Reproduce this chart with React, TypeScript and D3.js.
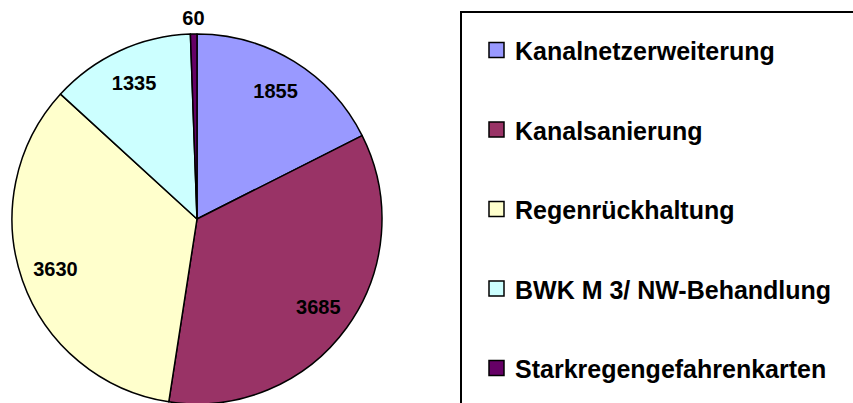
import React from 'react'
import * as d3 from 'd3'

const categories = [
  'Kanalnetzerweiterung',
  'Kanalsanierung',
  'Regenrückhaltung',
  'BWK M 3/ NW-Behandlung',
  'Starkregengefahrenkarten'
]
const values = [1855, 3685, 3630, 1335, 60]
const colors = ['#9999FF', '#993366', '#FFFFCC', '#CCFFFF', '#660066']

interface ISlice {
  name: string
  value: number
  color: string
}

const data: ISlice[] = categories.map((name, i) => ({ name, value: values[i], color: colors[i] }))

const width = 853
const height = 403
const cx = 197
const cy = 219
const radius = 185
const font = '"Liberation Sans", Arial, sans-serif'

const App = () => {
  const pie = d3
    .pie<ISlice>()
    .value(d => d.value)
    .sort(null)
  const arcs = pie(data)

  const arcGen = d3.arc<d3.PieArcDatum<ISlice>>().innerRadius(0).outerRadius(radius)
  // centroid sits at (inner + outer) / 2
  const labelArc = d3.arc<d3.PieArcDatum<ISlice>>().innerRadius(150).outerRadius(150)
  const outerLabelArc = d3.arc<d3.PieArcDatum<ISlice>>().innerRadius(201).outerRadius(201)

  const legendY = d3
    .scalePoint<string>()
    .domain(categories)
    .range([50, 368])

  return (
    <svg
      width={width}
      height={height}
      style={{ position: 'absolute', left: 0, top: 0, background: '#fff' }}
      fontFamily={font}
    >
      <g transform={`translate(${cx},${cy})`}>
        {arcs.map((a, i) => (
          <path key={i} d={arcGen(a) || ''} fill={a.data.color} stroke='#000' strokeWidth={1.5} strokeLinejoin='round' />
        ))}
        {arcs.map((a, i) => {
          const small = a.data.value < 200
          const [x, y] = small ? outerLabelArc.centroid(a) : labelArc.centroid(a)
          return (
            <text
              key={i}
              x={x}
              y={y}
              textAnchor='middle'
              dominantBaseline='central'
              fontWeight='bold'
              fontSize={20}
              fill='#000'
            >
              {a.data.value}
            </text>
          )
        })}
      </g>
      <rect x={461} y={12} width={420} height={420} fill='none' stroke='#000' strokeWidth={2} />
      {data.map((d, i) => {
        const y = legendY(d.name) || 0
        return (
          <g key={i}>
            <rect x={489} y={y - 7.5} width={15} height={15} fill={d.color} stroke='#000' strokeWidth={1.5} />
            <text x={515} y={y + 1} dominantBaseline='central' fontWeight='bold' fontSize={25} fill='#000'>
              {d.name}
            </text>
          </g>
        )
      })}
    </svg>
  )
}

export default App
